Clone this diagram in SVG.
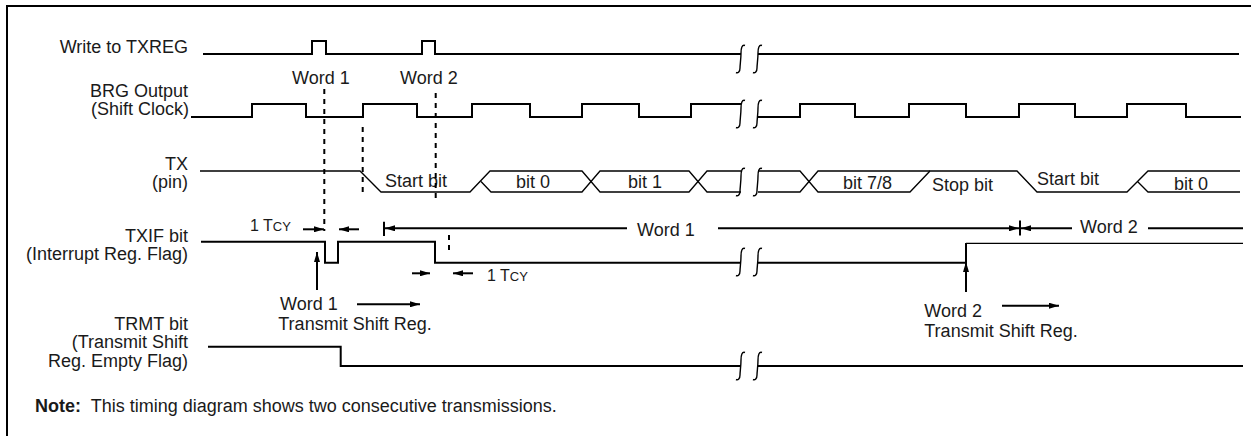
<svg xmlns="http://www.w3.org/2000/svg" xmlns:xlink="http://www.w3.org/1999/xlink" width="1251" height="436" viewBox="0 0 1251 436">
<style>
  text { font-family: "Liberation Sans", Arial, sans-serif; font-size: 18px; fill: #1a1a1a; }
  .lbl { text-anchor: end; }
  .tcy { font-size: 16px; }
  .sm { font-size: 13px; }
  .sig { fill: none; stroke: #000; stroke-width: 2; stroke-linejoin: miter; }
  .bus { fill: none; stroke: #000; stroke-width: 1.3; }
  .dash { fill: none; stroke: #000; stroke-width: 2; stroke-dasharray: 5 5; }
  .brk { fill: none; stroke: #000; stroke-width: 1.4; }
  .arr { fill: none; stroke: #000; stroke-width: 2; marker-end: url(#ah); }
  .bar { fill: none; stroke: #000; stroke-width: 2; }
  .frame { fill: none; stroke: #000; stroke-width: 2; }
</style>
<defs>
  <marker id="ah" viewBox="0 0 10 6" refX="10" refY="3" markerWidth="10" markerHeight="6" markerUnits="userSpaceOnUse" orient="auto">
    <path d="M0,0 L10,3 L0,6 z" fill="#000"/>
  </marker>
  <g id="brk">
    <path class="brk" d="M-4,-13.5 C-7,-14.5 -8,-11 -8,-6 C-8,0 -9,6 -9,9 C-9,12.5 -11,14.5 -13,13.5"/>
    <path class="brk" d="M13,-13.5 C10,-14.5 9,-11 9,-6 C9,0 8,6 8,9 C8,12.5 6,14.5 4,13.5"/>
  </g>
</defs>

<rect width="1251" height="436" fill="#fff"/>
<g id="frame">
  <path class="frame" d="M7,436 V6 H1251"/>
</g>

<g id="write-txreg">
  <text class="lbl" x="188" y="53">Write to TXREG</text>
  <path class="sig" d="M203,54 H312 V41 H326 V54 H422 V41 H435 V54 H741"/>
  <path class="sig" d="M758,54 H1239"/>
  <use xlink:href="#brk" x="749" y="59"/>
  <text x="292" y="83.5">Word 1</text>
  <text x="400" y="83.5">Word 2</text>
</g>

<g id="brg-output">
  <text class="lbl" x="188" y="97">BRG Output</text>
  <text class="lbl" x="189" y="115">(Shift Clock)</text>
  <path class="sig" d="M191,117 H252 V104 H306 V117 H363 V104 H417 V117 H472 V104 H530 V117 H582 V104 H639 V117 H691 V104 H741"/>
  <path class="sig" d="M758,117 H800 V104 H855 V117 H909 V104 H966 V117 H1019 V104 H1075 V117 H1127 V104 H1186 V117 H1241"/>
  <use xlink:href="#brk" x="749" y="114"/>
</g>

<g id="tx-pin">
  <text class="lbl" x="188" y="170">TX</text>
  <text class="lbl" x="188" y="188">(pin)</text>
  <path class="bus" d="M200,171 H360 L381,192 H470 L490,171 H582 L600,192 H689 L707,171 H741"/>
  <path class="bus" d="M481,181.5 L491,192 H582 L600,171 H689 L707,192 H741"/>
  <path class="bus" d="M758,171 H800 L818,192 H910 L930,171 H1017 L1037,192 H1127 L1148,171 H1240"/>
  <path class="bus" d="M758,192 H800 L818,171 H930"/>
  <path class="bus" d="M1137.5,181.5 L1148,192 H1240"/>
  <use xlink:href="#brk" x="749" y="182"/>
  <text x="385" y="186.5">Start bit</text>
  <text x="516" y="188">bit 0</text>
  <text x="628" y="188">bit 1</text>
  <text x="843" y="189">bit 7/8</text>
  <text x="932" y="191">Stop bit</text>
  <text x="1037" y="185">Start bit</text>
  <text x="1174" y="189.5">bit 0</text>
</g>

<g id="txif-bit">
  <text class="lbl" x="188" y="241.5">TXIF bit</text>
  <text class="lbl" x="188" y="259.5">(Interrupt Reg. Flag)</text>
  <path class="sig" d="M201,241.7 H325 V262.7 H338 V241.7 H435 V262.7 H741"/>
  <path class="sig" d="M758,262.7 H966 V243"/>
  <path class="bus" d="M966,243.3 H1243"/>
  <use xlink:href="#brk" x="749" y="262"/>
</g>

<g id="trmt-bit">
  <text class="lbl" x="188" y="330">TRMT bit</text>
  <text class="lbl" x="188" y="348.3">(Transmit Shift</text>
  <text class="lbl" x="188" y="366.5">Reg. Empty Flag)</text>
  <path class="sig" d="M208,346.7 H340.7 V366 H741"/>
  <path class="sig" d="M758,366 H1243"/>
  <use xlink:href="#brk" x="749" y="366"/>
</g>

<g id="annotations">
  <text class="tcy" x="250" y="231">1 T<tspan class="sm">CY</tspan></text>
  <text class="tcy" x="487" y="281">1 T<tspan class="sm">CY</tspan></text>
  <text x="637" y="235.5">Word 1</text>
  <text x="1080" y="233.3">Word 2</text>
  <text x="280" y="310">Word 1</text>
  <text x="278.3" y="330">Transmit Shift Reg.</text>
  <text x="924.3" y="316.7">Word 2</text>
  <text x="924.3" y="337.3">Transmit Shift Reg.</text>
</g>

<g id="connectors">
  <line class="dash" x1="324.3" y1="89" x2="324.3" y2="231"/>
  <line class="dash" x1="362.7" y1="127" x2="362.7" y2="195"/>
  <line class="dash" x1="435.7" y1="93" x2="435.7" y2="203"/>
  <line class="dash" x1="449" y1="235" x2="449" y2="255"/>
  <line class="arr" x1="303" y1="229.3" x2="324" y2="229.3"/>
  <line class="arr" x1="359" y1="229.3" x2="339" y2="229.3"/>
  <line class="bar" x1="384" y1="221.7" x2="384" y2="236"/>
  <line class="arr" x1="627" y1="228.3" x2="385" y2="228.3"/>
  <line class="arr" x1="718" y1="228.3" x2="1019" y2="228.3"/>
  <line class="bar" x1="1020" y1="220.5" x2="1020" y2="235.5"/>
  <line class="arr" x1="1072" y1="228.3" x2="1021" y2="228.3"/>
  <line class="bar" x1="1148" y1="228.3" x2="1243" y2="228.3"/>
  <line class="arr" x1="412" y1="273.3" x2="430" y2="273.3"/>
  <line class="arr" x1="473" y1="273.3" x2="453" y2="273.3"/>
  <line class="arr" x1="317" y1="290" x2="317" y2="252"/>
  <line class="arr" x1="966" y1="292" x2="966" y2="262"/>
  <line class="arr" x1="357" y1="304.3" x2="420" y2="304.3"/>
  <line class="arr" x1="1002" y1="305.7" x2="1059" y2="305.7"/>
</g>

<g id="note">
  <text x="35" y="411.7" font-weight="bold">Note:</text>
  <text x="90.7" y="411.7">This timing diagram shows two consecutive transmissions.</text>
</g>
</svg>
